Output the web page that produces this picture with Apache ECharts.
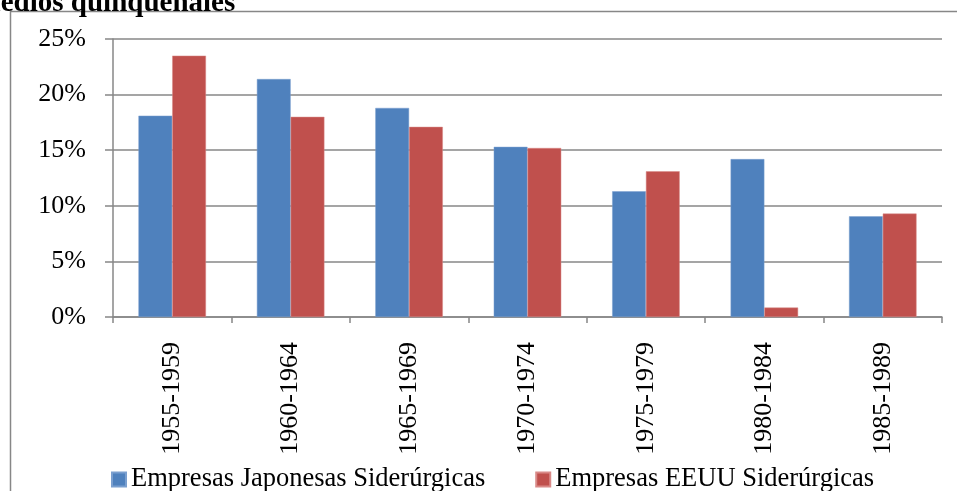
<!DOCTYPE html>
<html>
<head>
<meta charset="utf-8">
<script src="https://cdn.jsdelivr.net/npm/echarts@6/dist/echarts.min.js"></script>
<style>html,body{margin:0;padding:0;background:#fff;}#c{width:957px;height:491px;}</style>
</head>
<body>
<div id="c"></div>
<script>
const categories = ['1955-1959','1960-1964','1965-1969','1970-1974','1975-1979','1980-1984','1985-1989'];
const japonesas = [18.1, 21.4, 18.8, 15.3, 11.3, 14.2, 9.05];
const eeuu = [23.5, 18.0, 17.1, 15.2, 13.1, 0.85, 9.3];
const seriesNames = ['Empresas Japonesas Siderúrgicas', 'Empresas EEUU Siderúrgicas'];
const yTicks = [0, 5, 10, 15, 20, 25];
const titleText = 'Promedios quinquenales';

const FONT = '"Liberation Serif", "Times New Roman", serif';
const GRAY = '#878787';
const chart = echarts.init(document.getElementById('c'), null, {renderer: 'canvas'});
chart.setOption({
  animation: false,
  backgroundColor: '#fff',
  graphic: [
    {type: 'rect', shape: {x: 10.5, y: 11.5, width: 1000, height: 600}, style: {fill: 'none', stroke: GRAY, lineWidth: 1.5}, silent: true, z: -1},
    {type: 'text', x: -68, y: 18, style: {text: titleText, font: 'bold 29px ' + FONT, fill: '#000', verticalAlign: 'bottom'}}
  ],
  grid: {left: 113, right: 15, top: 39, bottom: 174, containLabel: false},
  legend: {
    left: 111, top: 466, padding: 0, itemWidth: 14, itemHeight: 14, itemGap: 50, icon: 'rect',
    textStyle: {fontFamily: FONT, fontSize: 26.5, color: '#000', lineHeight: 14},
    data: seriesNames
  },
  xAxis: {
    type: 'category', data: categories,
    axisLine: {lineStyle: {color: GRAY, width: 1.5}},
    axisTick: {show: true, alignWithLabel: false, length: 6, lineStyle: {color: GRAY, width: 1.5}},
    axisLabel: {rotate: 90, margin: 25, fontFamily: FONT, fontSize: 26, color: '#000', interval: 0}
  },
  yAxis: {
    type: 'value', min: 0, max: 25, interval: 5,
    axisLine: {show: true, lineStyle: {color: GRAY, width: 1.5}},
    axisTick: {show: true, length: 8, lineStyle: {color: GRAY, width: 1.5}},
    splitLine: {lineStyle: {color: GRAY, width: 1.5}},
    axisLabel: {margin: 27, fontFamily: FONT, fontSize: 26, color: '#000',
      formatter: v => yTicks.includes(v) ? v + '%' : ''}
  },
  series: [
    {name: seriesNames[0], type: 'bar', data: japonesas, barGap: '0%', barCategoryGap: '43%',
      itemStyle: {color: '#4F81BD', borderColor: '#7a9fcf', borderWidth: 0.5}},
    {name: seriesNames[1], type: 'bar', data: eeuu, barGap: '0%', barCategoryGap: '43%',
      itemStyle: {color: '#C0504D', borderColor: '#d98a88', borderWidth: 0.5}}
  ]
});
</script>
</body>
</html>
